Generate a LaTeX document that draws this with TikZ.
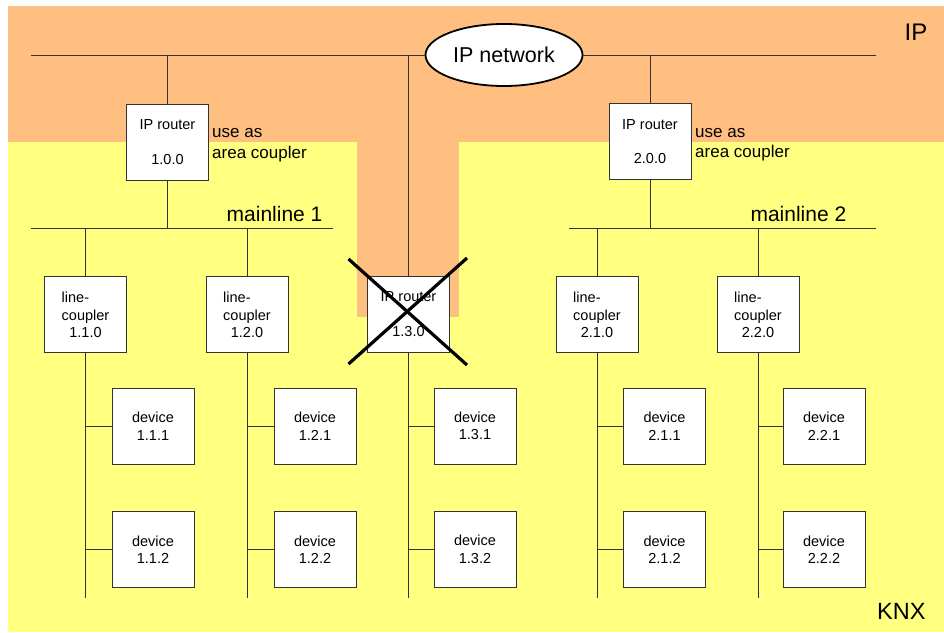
\documentclass[tikz,border=0pt]{standalone}
\usepackage{fontspec}
\setmainfont{Liberation Sans}
\usetikzlibrary{shapes.geometric}
\definecolor{ipor}{RGB}{255,191,128}
\definecolor{knxy}{RGB}{255,255,128}
\newcommand\lcpl[1]{\begin{tabular}[b]{@{}l@{}}line-\\coupler\end{tabular}\\#1}
\begin{document}
\begin{tikzpicture}[x=1pt,y=-1pt,
  bus/.style={draw=black!80, line width=0.9pt},
  box/.style={draw=black!80, line width=0.9pt, fill=white, rectangle, inner sep=0pt,
    minimum width=82pt, minimum height=76pt, align=center,
    font=\fontsize{14.5}{17.5}\selectfont},
  lbl/.style={inner sep=0pt, anchor=base west},
  xcross/.style={draw=black, line width=3.2pt}]
\useasboundingbox (0,0) rectangle (944,632);
% zones
\fill[white] (0,0) rectangle (944,632);
\fill[knxy] (8,142) rectangle (944,632);
\fill[ipor] (8,6) rectangle (944,142);
\fill[ipor] (357,141) rectangle (459,317);
% coordinates
\coordinate (ipL) at (31,55);
\coordinate (ipR) at (876,55);
\coordinate (m1L) at (31,228);
\coordinate (m1R) at (333,228);
\coordinate (m2L) at (569,228);
\coordinate (m2R) at (876,228);
\coordinate (bot) at (0,598);
% IP network
\node[ellipse, draw=black, line width=1.8pt, fill=white, minimum width=157pt,
  minimum height=62pt, inner sep=0pt, font=\fontsize{21.5}{24}\selectfont] (net) at (504,55) {IP network};
% routers
\node[box] (r1) at (167.5,142) {IP router\\[17pt]1.0.0};
\node[box] (r2) at (650,141.5) {IP router\\[17pt]2.0.0};
\node[box] (r3) at (408.5,314) {IP router\\[17pt]1.3.0};
% line couplers
\node[box] (c11) at (85.5,314) {\lcpl{1.1.0}};
\node[box] (c12) at (247,314) {\lcpl{1.2.0}};
\node[box] (c21) at (597,314) {\lcpl{2.1.0}};
\node[box] (c22) at (758,314) {\lcpl{2.2.0}};
% devices
\node[box] (d111) at (153,426) {device\\1.1.1};
\node[box] (d112) at (153,549.5) {device\\1.1.2};
\node[box] (d121) at (315,426) {device\\1.2.1};
\node[box] (d122) at (315,549.5) {device\\1.2.2};
\node[box] (d131) at (475,426) {device\\1.3.1};
\node[box] (d132) at (475,549.5) {device\\1.3.2};
\node[box] (d211) at (664.5,426) {device\\2.1.1};
\node[box] (d212) at (664.5,549.5) {device\\2.1.2};
\node[box] (d221) at (824,426) {device\\2.2.1};
\node[box] (d222) at (824,549.5) {device\\2.2.2};
% IP backbone
\draw[bus] (ipL) -- (net.west);
\draw[bus] (net.east) -- (ipR);
\draw[bus] (r1.north |- ipL) -- (r1.north);
\draw[bus] (r2.north |- ipL) -- (r2.north);
\draw[bus] (r3.north |- ipL) -- (r3.north);
% mainlines
\draw[bus] (r1.south) -- (r1.south |- m1L);
\draw[bus] (r2.south) -- (r2.south |- m2L);
\draw[bus] (m1L) -- (m1R);
\draw[bus] (m2L) -- (m2R);
\draw[bus] (c11.north |- m1L) -- (c11.north);
\draw[bus] (c12.north |- m1L) -- (c12.north);
\draw[bus] (c21.north |- m2L) -- (c21.north);
\draw[bus] (c22.north |- m2L) -- (c22.north);
% lines
\foreach \c/\a/\b in {c11/d111/d112, c12/d121/d122, r3/d131/d132, c21/d211/d212, c22/d221/d222}{
  \draw[bus] (\c.south) -- (\c.south |- bot);
  \draw[bus] (\a.west -| \c) -- (\a.west);
  \draw[bus] (\b.west -| \c) -- (\b.west);
}
% cross over the removed router
\draw[xcross] ([shift={(-60,-55)}]r3.center) -- ([shift={(58.5,51)}]r3.center);
\draw[xcross] ([shift={(-60,50)}]r3.center) -- ([shift={(58.5,-56)}]r3.center);
% labels
\node[lbl, font=\fontsize{17}{21}\selectfont] (ua1) at (212,137.3) {use as};
\node[lbl, font=\fontsize{17}{21}\selectfont] (ac1) at (212,158.3) {area coupler};
\node[lbl, font=\fontsize{17}{21}\selectfont] (ua2) at (695,137.3) {use as};
\node[lbl, font=\fontsize{17}{21}\selectfont] (ac2) at (695,157.3) {area coupler};
\node[lbl, font=\fontsize{21}{24}\selectfont] (ml1) at (226.5,221.7) {mainline 1};
\node[lbl, font=\fontsize{21}{24}\selectfont] (ml2) at (750.3,221.7) {mainline 2};
\node[lbl, font=\fontsize{24}{28}\selectfont] (lip) at (904.5,40) {IP};
\node[lbl, font=\fontsize{23.5}{28}\selectfont] (lknx) at (877,619) {KNX};
\end{tikzpicture}
\end{document}
